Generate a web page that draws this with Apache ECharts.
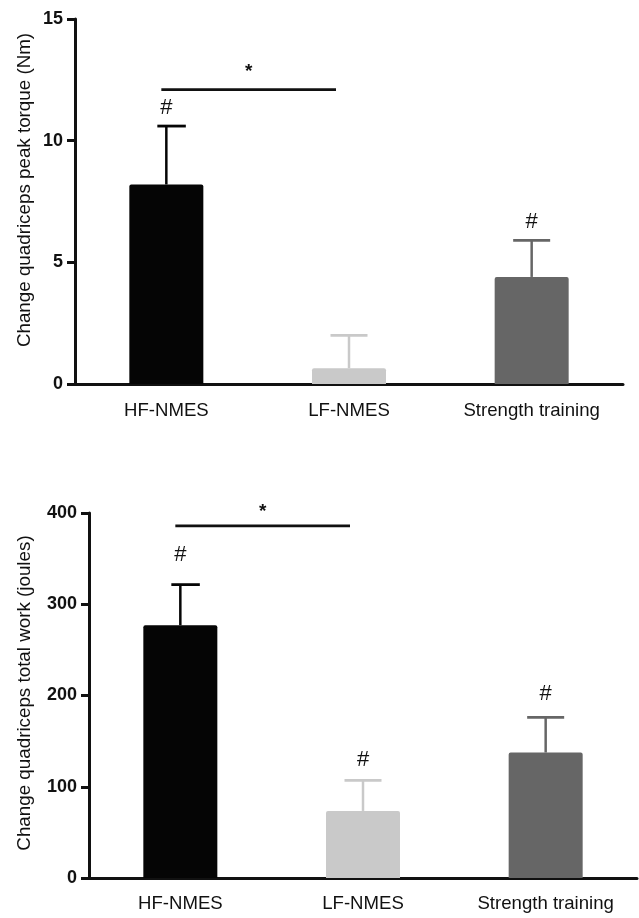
<!DOCTYPE html>
<html><head><meta charset="utf-8">
<script src="https://cdn.jsdelivr.net/npm/echarts@6/dist/echarts.min.js"></script>
<style>html,body{margin:0;padding:0;background:#fff}#c{width:639px;height:918px}</style>
</head><body><div id="c"></div>
<script>
// ---- data ----
const categories = ['HF-NMES', 'LF-NMES', 'Strength training'];
const torqueMean  = [8.2, 0.65, 4.4];
const torqueUpper = [10.6, 2.0, 5.9];
const torqueHash  = [11.35, null, 6.65];   // '#' annotation heights
const torqueSigLine = 12.1;                 // '*' bracket HF vs LF
const torqueStar = 13.0;
const torqueTicks = [0, 5, 10, 15];

const workMean  = [277, 73.5, 137.5];
const workUpper = [321.5, 107, 176];
const workHash  = [354, 129, 201.5];
const workSigLine = 386;
const workStar = 405.5;
const workTicks = [0, 100, 200, 300, 400];

const yNameTop = 'Change quadriceps peak torque (Nm)';
const yNameBottom = 'Change quadriceps total work (joules)';

// ---- style ----
const barColors = ['#050505', '#c9c9c9', '#666666'];
const capLeft = [9, 18.5, 18.5];
const capRight = [19.5, 18.5, 18.5];
const FONT = '"Liberation Sans", Arial, Helvetica, sans-serif';
const INK = '#111';

function errSeries(idx, mean, upper) {
  return {
    type: 'custom', xAxisIndex: idx, yAxisIndex: idx, z: 5,
    data: mean.map((m, i) => [i, m, upper[i]]),
    renderItem: function (params, api) {
      const i = api.value(0);
      const p0 = api.coord([i, api.value(1)]);
      const p1 = api.coord([i, api.value(2)]);
      const c = barColors[i];
      return { type: 'group', children: [
        { type: 'line', shape: { x1: p0[0], y1: p0[1], x2: p1[0], y2: p1[1] }, style: { stroke: c, lineWidth: 2.5 } },
        { type: 'line', shape: { x1: p1[0] - capLeft[i], y1: p1[1], x2: p1[0] + capRight[i], y2: p1[1] }, style: { stroke: c, lineWidth: 2.8 } }
      ]};
    }
  };
}
function hashSeries(idx, hash) {
  return {
    type: 'custom', xAxisIndex: idx, yAxisIndex: idx, z: 6,
    data: hash.map((h, i) => [i, h]).filter(d => d[1] !== null),
    renderItem: function (params, api) {
      const p = api.coord([api.value(0), api.value(1)]);
      return { type: 'text', style: { text: '#', x: p[0], y: p[1], textAlign: 'center', textVerticalAlign: 'middle', font: '22px ' + FONT, fill: INK } };
    }
  };
}
function sigSeries(idx, lineY, starY) {
  return {
    type: 'custom', xAxisIndex: idx, yAxisIndex: idx, z: 6, clip: false,
    data: [[0, 1, lineY, starY]],
    renderItem: function (params, api) {
      const a = api.coord([api.value(0), api.value(2)]);
      const b = api.coord([api.value(1), api.value(2)]);
      const s = api.coord([api.value(0), api.value(3)]);
      const x1 = a[0] - 5, x2 = b[0] - 13;
      return { type: 'group', children: [
        { type: 'line', shape: { x1: x1, y1: a[1], x2: x2, y2: b[1] }, style: { stroke: INK, lineWidth: 2.8 } },
        { type: 'text', style: { text: '*', x: (x1 + x2) / 2, y: s[1] + 4, textAlign: 'center', textVerticalAlign: 'middle', font: 'bold 19px ' + FONT, fill: INK } }
      ]};
    }
  };
}
function xAx(idx, margin) {
  return {
    type: 'category', gridIndex: idx, data: categories,
    axisLine: { lineStyle: { color: INK, width: 3 } },
    axisTick: { alignWithLabel: true, length: 10, lineStyle: { color: INK, width: 3 } },
    axisLabel: { color: INK, fontSize: 18.6, fontFamily: FONT, margin: margin }
  };
}
function yAx(idx, ticks) {
  return {
    type: 'value', gridIndex: idx, min: ticks[0], max: ticks[ticks.length - 1], interval: ticks[1] - ticks[0],
    splitLine: { show: false },
    axisLine: { show: true, lineStyle: { color: INK, width: 3 } },
    axisTick: { show: true, length: 8, lineStyle: { color: INK, width: 3 } },
    axisLabel: { color: INK, fontSize: 18, fontWeight: 'bold', fontFamily: FONT, margin: 12 }
  };
}
function barSeries(idx, mean) {
  return {
    type: 'bar', xAxisIndex: idx, yAxisIndex: idx, barWidth: 74, z: 2,
    data: mean.map((v, i) => ({ value: v, itemStyle: { color: barColors[i], borderRadius: [2, 2, 0, 0] } }))
  };
}

const chart = echarts.init(document.getElementById('c'), null, { renderer: 'canvas' });
chart.setOption({
  animation: false,
  backgroundColor: '#fff',
  grid: [
    { left: 75, top: 19, width: 548, height: 365 },
    { left: 89, top: 513, width: 548, height: 365 }
  ],
  xAxis: [xAx(0, 17), xAx(1, 16)],
  yAxis: [yAx(0, torqueTicks), yAx(1, workTicks)],
  graphic: [
    { type: 'text', x: 25, y: 190, rotation: Math.PI / 2, style: { text: yNameTop, font: '18.8px ' + FONT, fill: INK, textAlign: 'center', textVerticalAlign: 'middle' } },
    { type: 'text', x: 25, y: 693, rotation: Math.PI / 2, style: { text: yNameBottom, font: '18.8px ' + FONT, fill: INK, textAlign: 'center', textVerticalAlign: 'middle' } }
  ],
  series: [
    barSeries(0, torqueMean), errSeries(0, torqueMean, torqueUpper), hashSeries(0, torqueHash), sigSeries(0, torqueSigLine, torqueStar),
    barSeries(1, workMean), errSeries(1, workMean, workUpper), hashSeries(1, workHash), sigSeries(1, workSigLine, workStar)
  ]
});
</script></body></html>
